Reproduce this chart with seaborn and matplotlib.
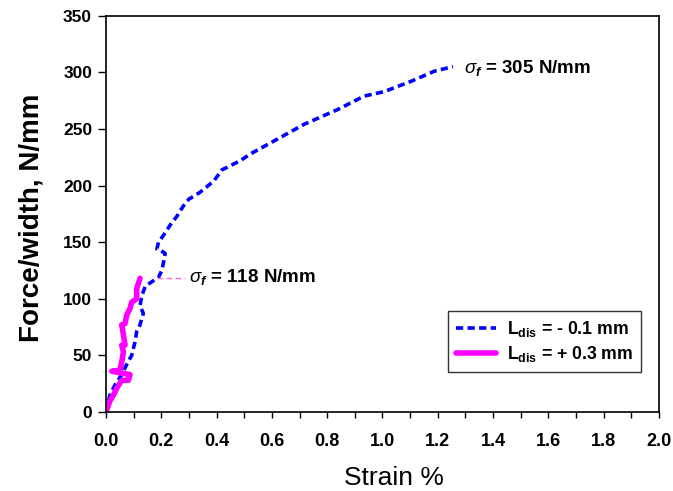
import matplotlib
matplotlib.use("Agg")
import matplotlib.pyplot as plt
import seaborn as sns
import pandas as pd

sns.set_theme(style="white")
plt.rcParams['font.family'] = ['Liberation Sans', 'DejaVu Sans']
plt.rcParams['mathtext.fontset'] = 'custom'
plt.rcParams['mathtext.rm'] = 'Liberation Sans:bold'
plt.rcParams['mathtext.it'] = 'Liberation Sans:italic'
plt.rcParams['mathtext.bf'] = 'Liberation Sans:bold:italic'
plt.rcParams['text.color'] = 'black'
plt.rcParams['axes.labelcolor'] = 'black'
plt.rcParams['xtick.color'] = 'black'
plt.rcParams['ytick.color'] = 'black'

# Series 1: L_dis = -0.1 mm (blue dashed)
strain_a = [0.0, 0.014, 0.033, 0.057, 0.075, 0.093, 0.105, 0.111, 0.123, 0.135,
            0.123, 0.13, 0.142, 0.166, 0.19, 0.202, 0.208, 0.214, 0.196, 0.184,
            0.19, 0.208, 0.232, 0.257, 0.28, 0.30, 0.34, 0.39, 0.42, 0.438,
            0.486, 0.523, 0.62, 0.716, 0.837, 0.934, 1.007, 1.103, 1.188, 1.255]
force_a = [0, 15, 24, 33, 42, 50, 62, 71, 77, 87,
           94, 103, 111, 115, 119, 125, 132, 140, 143, 144,
           150, 156, 165, 173, 182, 188, 194, 204, 214, 216,
           222, 228, 241, 254, 267, 279, 283, 292, 301, 305]

# Series 2: L_dis = +0.3 mm (magenta solid)
strain_b = [0.0, 0.014, 0.027, 0.039, 0.057, 0.081, 0.087, 0.063, 0.021, 0.051,
            0.057, 0.063, 0.057, 0.069, 0.063, 0.057, 0.069, 0.075, 0.087, 0.093,
            0.111, 0.111, 0.123]
force_b = [0, 9.6, 15, 21, 28, 28, 33, 34, 36, 37,
           44.5, 53, 59, 59, 68, 77, 78, 85.6, 91.5, 97,
           100, 109, 118]

labels = [r'L$_{\mathrm{dis}}$ = - 0.1 mm', r'L$_{\mathrm{dis}}$ = + 0.3 mm']
xticks = [0.0, 0.2, 0.4, 0.6, 0.8, 1.0, 1.2, 1.4, 1.6, 1.8, 2.0]
yticks = [0, 50, 100, 150, 200, 250, 300, 350]

df_a = pd.DataFrame({'strain': strain_a, 'force': force_a})
df_b = pd.DataFrame({'strain': strain_b, 'force': force_b})

fig = plt.figure(figsize=(6.73, 4.91), dpi=100)
ax = fig.add_axes([0.1575, 0.161, 0.8215, 0.807])

sns.lineplot(data=df_a, x='strain', y='force', sort=False, ax=ax, color='#0000ff',
             lw=2.6, label=labels[0], estimator=None)
ax.lines[-1].set_dashes([2.0, 1.2])
sns.lineplot(data=df_b, x='strain', y='force', sort=False, ax=ax, color='#ff00ff',
             lw=4, label=labels[1], estimator=None)

# annotation leader for 118
ax.plot([0.185, 0.285], [118, 118], color='#ff66dd', lw=1, dashes=[4, 2.5])

ax.text(1.296, 304, r'$\sigma_{\mathbf{f}}$ = 305 N/mm', fontsize=13.5,
        fontweight='bold', va='center', ha='left')
ax.text(0.30, 119, r'$\sigma_{\mathbf{f}}$ = 118 N/mm', fontsize=13.5,
        fontweight='bold', va='center', ha='left')

ax.set_xlim(0, 2.0)
ax.set_ylim(0, 350)
ax.set_xticks(xticks)
ax.set_xticklabels([f'{v:.1f}' for v in xticks])
ax.set_yticks(yticks)
ax.set_xticks([v + 0.1 for v in xticks[:-1]], minor=True)
ax.tick_params(axis='x', which='both', direction='out', length=4.5, width=1,
               color='black', labelcolor='black', labelsize=13, bottom=True, pad=11)
ax.tick_params(axis='y', which='both', direction='out', length=6, width=1,
               color='black', labelcolor='black', labelsize=12.5, left=True, pad=4)
for lab in ax.get_xticklabels() + ax.get_yticklabels():
    lab.set_fontweight('bold')
for s in ax.spines.values():
    s.set_color('black')
    s.set_linewidth(1.2)

ax.set_xlabel('Strain %', fontsize=19)
ax.xaxis.set_label_coords(0.52, -0.136)
ax.set_ylabel('Force/width, N/mm', fontsize=20, fontweight='bold')
ax.yaxis.set_label_coords(-0.112, 0.49)

leg = ax.legend(loc='lower right', bbox_to_anchor=(0.968, 0.10), fontsize=12.7,
                frameon=True, fancybox=False, edgecolor='black', handlelength=2.3,
                borderpad=0.45, labelspacing=0.3, handletextpad=0.6, borderaxespad=0)
leg.get_frame().set_linewidth(1)
for t in leg.get_texts():
    t.set_fontweight('bold')
    t.set_color('black')

fig.savefig('out.png', dpi=100)
